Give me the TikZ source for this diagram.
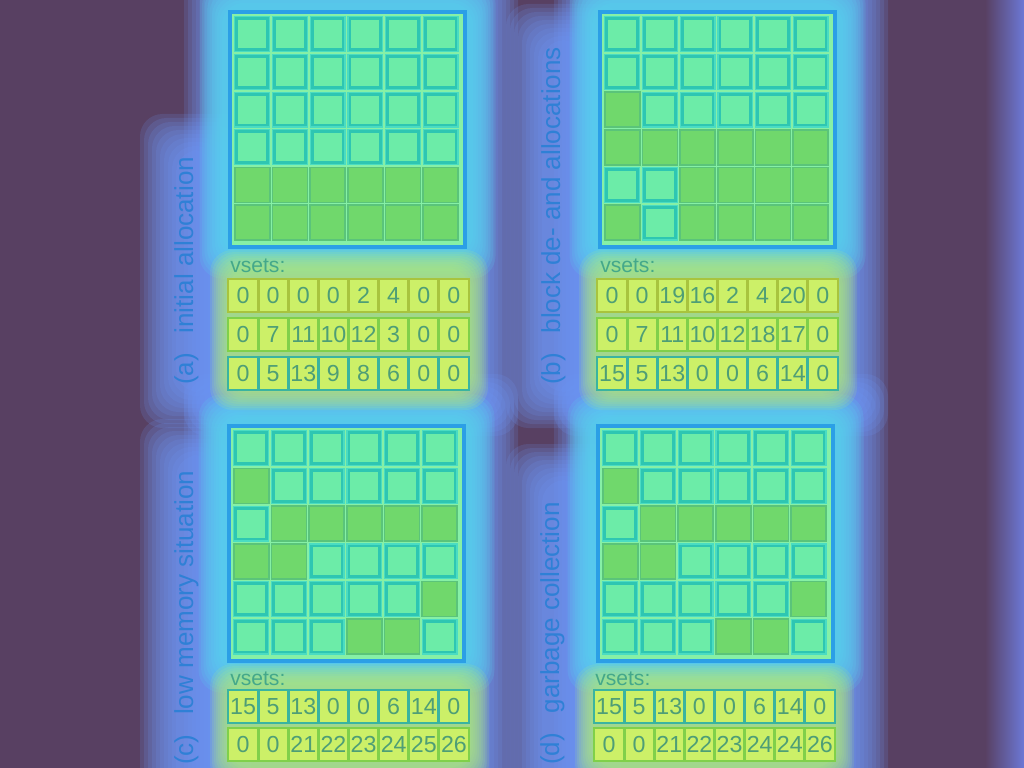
\documentclass[tikz,border=0pt]{standalone}
\usepackage{fontspec}
\setmainfont{Liberation Sans}
\definecolor{bgp}{HTML}{584062}
\definecolor{rightb}{HTML}{6C78D6}
\definecolor{glowb}{HTML}{6E96F6}
\definecolor{glowc}{HTML}{56D8F0}
\definecolor{glowy}{HTML}{B4F078}
\definecolor{frameb}{HTML}{2B9FE6}
\definecolor{gridln}{HTML}{86F0A6}
\definecolor{cellbase}{HTML}{4ADCC2}
\definecolor{emptyb}{HTML}{2EC6B2}
\definecolor{emptyf}{HTML}{6CECA8}
\definecolor{fullf}{HTML}{70D86C}
\definecolor{fullb}{HTML}{5AC47A}
\definecolor{vsetbg}{HTML}{CCF068}
\definecolor{vbA}{HTML}{A8C43E}
\definecolor{vbB}{HTML}{80D04A}
\definecolor{vbC}{HTML}{3AB4A0}
\definecolor{numc}{HTML}{4E9E76}
\definecolor{labc}{HTML}{2F80D6}
\definecolor{vlabc}{HTML}{44A88A}
\tikzset{
  emptycell/.style={draw=emptyb, fill=emptyf, line width=2pt, minimum size=0.77cm, inner sep=0pt, outer sep=0pt},
  fullcell/.style={draw=fullb, fill=fullf, line width=1.2pt, minimum size=0.87cm, inner sep=0pt, outer sep=0pt},
  vcell/.style={fill=vsetbg, line width=2.1pt, minimum width=0.753cm, minimum height=0.825cm, inner sep=0pt, outer sep=0pt, text=numc, font=\fontsize{16.5}{18}\selectfont},
  lab/.style={text=labc, font=\fontsize{18.5}{20}\selectfont, inner sep=0pt, rotate=90, anchor=base west},
  vlab/.style={text=vlabc, font=\fontsize{15}{16}\selectfont, inner sep=0pt, anchor=base west}
}
% glow: color, opacity, step, x1, y1, x2, y2
\newcommand\myglow[7]{%
  \foreach \k in {0,...,9}{%
    \fill[#1, opacity=#2, rounded corners=16pt] ({#4-\k*#3},{#5-\k*#3}) rectangle ({#6+\k*#3},{#7+\k*#3});
  }%
}
% grid: name, filled list (row/col)
\newcommand\mygrid[2]{%
  \fill[gridln] (0,0) rectangle (237,237);
  \foreach \r in {0,...,5}{\foreach \c in {0,...,5}{%
    \fill[cellbase] ({5.2+\c*37.67},{5.2+\r*37.67}) rectangle ({5.2+\c*37.67+36.2},{5.2+\r*37.67+36.2});
    \node[emptycell] (#1-\r-\c) at ({5.2+\c*37.67+18.1},{5.2+\r*37.67+18.1}) {};
  }}
  \foreach \r/\c in {#2}{%
    \node[fullcell] (#1-f-\r-\c) at ({5.2+\c*37.67+18.1},{5.2+\r*37.67+18.1}) {};
  }
  \draw[frameb, line width=2.8pt] (1.4,1.4) rectangle (235.6,235.6);
}
% vsets row: name, x start, y top, border colour, values
\newcommand\vrow[5]{%
  \foreach \v [count=\i] in {#5}{%
    \node[vcell, draw=#4] (#1-\i) at ({#2+(\i-0.5)*30.125},{#3+16.5}) {\v};
  }%
}
\begin{document}
\begin{tikzpicture}[x=0.025cm,y=-0.025cm]
\useasboundingbox (0,0) rectangle (1024,768);
\fill[bgp] (0,0) rectangle (1024,768);
\shade[left color=bgp, right color=rightb] (985,0) rectangle (1024,768);

% blue glows
\myglow{glowb}{0.17}{4}{220}{-40}{482}{400}
\myglow{glowb}{0.17}{4}{176}{150}{215}{392}
\myglow{glowb}{0.17}{4}{220}{410}{482}{810}
\myglow{glowb}{0.17}{4}{176}{455}{215}{810}
\myglow{glowb}{0.17}{4}{590}{-40}{852}{400}
\myglow{glowb}{0.17}{4}{542}{40}{585}{392}
\myglow{glowb}{0.17}{4}{590}{410}{852}{810}
\myglow{glowb}{0.17}{4}{542}{480}{585}{810}

% cyan glows around grids
\myglow{glowc}{0.16}{2.5}{222}{3}{473}{256}
\myglow{glowc}{0.16}{2.5}{592}{3}{843}{256}
\myglow{glowc}{0.16}{2.5}{221}{417}{472}{670}
\myglow{glowc}{0.16}{2.5}{590}{417}{841}{670}
% yellow-green glows behind vsets
\myglow{glowy}{0.14}{2}{228}{268}{470}{392}
\myglow{glowy}{0.14}{2}{597}{268}{839}{392}
\myglow{glowy}{0.14}{2}{228}{682}{471}{768}
\myglow{glowy}{0.14}{2}{593}{682}{836}{768}

% panel (a)
\begin{scope}[shift={(229,11)}]
  \mygrid{ga}{4/0,4/1,4/2,4/3,4/4,4/5,5/0,5/1,5/2,5/3,5/4,5/5}
\end{scope}
\node[vlab] (va) at (230,272) {vsets:};
\vrow{a1}{228}{279}{vbA}{0,0,0,0,2,4,0,0}
\vrow{a2}{228}{318}{vbB}{0,7,11,10,12,3,0,0}
\vrow{a3}{228}{357}{vbC}{0,5,13,9,8,6,0,0}
\node[lab] (la) at (193,385) {(a)\hspace{0.75em}initial allocation};

% panel (b)
\begin{scope}[shift={(599,11)}]
  \mygrid{gb}{2/0,3/0,3/1,3/2,3/3,3/4,3/5,4/2,4/3,4/4,4/5,5/0,5/2,5/3,5/4,5/5}
\end{scope}
\node[vlab] (vb) at (600,272) {vsets:};
\vrow{b1}{597}{279}{vbA}{0,0,19,16,2,4,20,0}
\vrow{b2}{597}{318}{vbB}{0,7,11,10,12,18,17,0}
\vrow{b3}{597}{357}{vbC}{15,5,13,0,0,6,14,0}
\node[lab] (lb) at (560,385) {(b)\hspace{0.75em}block de- and allocations};

% panel (c)
\begin{scope}[shift={(228,425)}]
  \mygrid{gc}{1/0,2/1,2/2,2/3,2/4,2/5,3/0,3/1,4/5,5/3,5/4}
\end{scope}
\node[vlab] (vc) at (230,685) {vsets:};
\vrow{c1}{228}{690}{vbC}{15,5,13,0,0,6,14,0}
\vrow{c2}{228}{728}{vbB}{0,0,21,22,23,24,25,26}
\node[lab] (lc) at (193,765) {(c)\hspace{0.75em}low memory situation};

% panel (d)
\begin{scope}[shift={(597,425)}]
  \mygrid{gd}{1/0,2/1,2/2,2/3,2/4,2/5,3/0,3/1,4/5,5/3,5/4}
\end{scope}
\node[vlab] (vd) at (595,685) {vsets:};
\vrow{d1}{594}{690}{vbC}{15,5,13,0,0,6,14,0}
\vrow{d2}{594}{728}{vbB}{0,0,21,22,23,24,24,26}
\node[lab] (ld) at (559,765) {(d)\hspace{0.75em}garbage collection};
\end{tikzpicture}
\end{document}
